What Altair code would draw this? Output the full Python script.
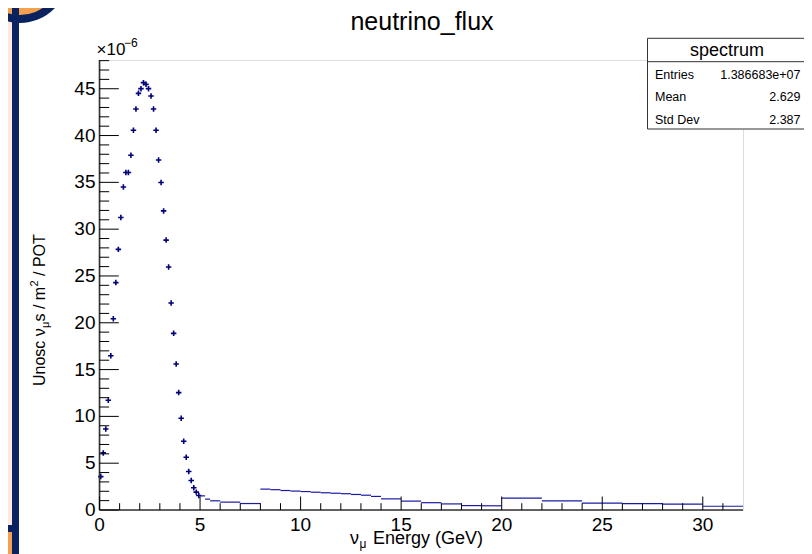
import altair as alt
import pandas as pd

# ---------------- data (values in units of 1e-6) ----------------
low_centers = [0.0625, 0.1875, 0.3125, 0.4375, 0.5625, 0.6875, 0.8125, 0.9375,
               1.0625, 1.1875, 1.3125, 1.4375, 1.5625, 1.6875, 1.8125, 1.9375,
               2.0625, 2.1875, 2.3125, 2.4375, 2.5625, 2.6875, 2.8125, 2.9375,
               3.0625, 3.1875, 3.3125, 3.4375, 3.5625, 3.6875, 3.8125, 3.9375,
               4.0625, 4.1875, 4.3125, 4.4375, 4.5625, 4.6875, 4.8125, 4.9375]
low_values = [3.57, 6.1, 8.66, 11.73, 16.48, 20.43, 24.29, 27.84,
              31.25, 34.51, 36.05, 36.05, 37.9, 40.56, 42.84, 44.51,
              45.01, 45.65, 45.47, 45.01, 44.22, 42.84, 40.56, 37.39,
              34.98, 31.95, 28.83, 25.95, 22.11, 18.87, 15.6, 12.54,
              9.8, 7.35, 5.64, 4.11, 3.15, 2.37, 1.91, 1.55]

tail_lo = [5.0, 5.25, 5.5, 6.0, 7.0, 8.0, 8.5, 9.0, 9.5, 10.0, 10.5, 11.0, 11.5,
           12.0, 12.5, 13.0, 13.5, 14.0, 15.0, 16.0, 17.0, 18.0, 19.0, 20.0,
           22.0, 24.0, 26.0, 28.0, 30.0]
tail_hi = [5.25, 5.5, 6.0, 7.0, 8.0, 8.5, 9.0, 9.5, 10.0, 10.5, 11.0, 11.5, 12.0,
           12.5, 13.0, 13.5, 14.0, 15.0, 16.0, 17.0, 18.0, 19.0, 20.0, 22.0,
           24.0, 26.0, 28.0, 30.0, 32.0]
tail_values = [1.51, 1.16, 0.98, 0.84, 0.69, 2.23, 2.17, 2.08, 2.02, 1.97, 1.90,
               1.84, 1.79, 1.74, 1.66, 1.58, 1.45, 1.19, 0.95, 0.78, 0.65, 0.47,
               0.45, 1.27, 0.98, 0.74, 0.68, 0.62, 0.40]

x_major = [0, 5, 10, 15, 20, 25, 30]
x_labels = ["0", "5", "10", "15", "20", "25", "30"]
x_minor = [1, 2, 3, 4, 6, 7, 8, 9, 11, 12, 13, 14, 16, 17, 18, 19, 21, 22, 23, 24,
           26, 27, 28, 29, 31]
y_major = [0, 5, 10, 15, 20, 25, 30, 35, 40, 45]
y_labels = ["0", "5", "10", "15", "20", "25", "30", "35", "40", "45"]
y_minor = [1, 2, 3, 4, 6, 7, 8, 9, 11, 12, 13, 14, 16, 17, 18, 19, 21, 22, 23, 24,
           26, 27, 28, 29, 31, 32, 33, 34, 36, 37, 38, 39, 41, 42, 43, 44, 46, 47, 48]

stats_labels = ["Entries", "Mean", "Std Dev"]
stats_values = ["1.386683e+07", "2.629", "2.387"]

X_DOMAIN = [0, 32]
Y_DOMAIN = [0, 48.07]

# ---------------- styling ----------------
FONT = "Liberation Sans"
NAVY = "#00007a"
LINE_BLUE = "#1a1aa6"
FRAME_NAVY = "#0b2260"
ORANGE = "#f4a04f"
PEACH = "#fde9dc"
AXIS_COL = "#333333"
W, H = 643.5, 450

xs = alt.Scale(domain=X_DOMAIN, nice=False, zero=False)
ys = alt.Scale(domain=Y_DOMAIN, nice=False, zero=False)

low_df = pd.DataFrame({"e": low_centers, "v": low_values})
tail_df = pd.DataFrame({"lo": tail_lo, "hi": tail_hi, "v": tail_values})
dummy = pd.DataFrame({"a": [0]})


def rect(x, x2, y, y2, color, stroke=None):
    kw = {"color": color}
    if stroke is not None:
        kw = {"fill": color, "stroke": stroke, "strokeWidth": 1}
    return alt.Chart(dummy).mark_rect(**kw).encode(
        x=alt.value(x), x2=alt.value(x2), y=alt.value(y), y2=alt.value(y2))


def txt(s, x, y, size, align="left", baseline="alphabetic", angle=0, color="black"):
    kw = dict(text=s, font=FONT, fontSize=size, align=align, baseline=baseline, color=color)
    if angle:
        kw["angle"] = angle
    return alt.Chart(dummy).mark_text(**kw).encode(x=alt.value(x), y=alt.value(y))


# decorations of the slide frame (plot coordinates; origin at page (99.5, 60))
deco = [
    rect(-92, -87.5, -52, 465, PEACH),
    rect(-92, -87.5, 472, 494, ORANGE),
    alt.Chart(dummy).mark_point(shape="circle", filled=True, size=96 * 96, color=FRAME_NAVY,
                                opacity=1).encode(x=alt.value(-79.5), y=alt.value(-85)),
    alt.Chart(dummy).mark_point(shape="circle", filled=True, size=80 * 80, color=ORANGE,
                                opacity=1).encode(x=alt.value(-79.5), y=alt.value(-85)),
    rect(-87.5, -80.5, -52, 494, FRAME_NAVY),
    rect(-92, -80.5, 465, 472, FRAME_NAVY),
]

points = alt.Chart(low_df).mark_point(
    shape="M-1,0L1,0M0,-1L0,1", filled=False, size=30, strokeWidth=1.6, color=NAVY, opacity=1
).encode(x=alt.X("e:Q", scale=xs, axis=None), y=alt.Y("v:Q", scale=ys, axis=None))

tail = alt.Chart(tail_df).mark_rule(color=LINE_BLUE, strokeWidth=1.2).encode(
    x=alt.X("lo:Q", scale=xs, axis=None), x2="hi:Q", y=alt.Y("v:Q", scale=ys, axis=None))

# axis lines
axes_lines = [
    alt.Chart(dummy).mark_rule(color=AXIS_COL, strokeWidth=1.6).encode(
        x=alt.value(0), y=alt.value(0), y2=alt.value(H)),
    alt.Chart(dummy).mark_rule(color=AXIS_COL, strokeWidth=1.6).encode(
        x=alt.value(0), x2=alt.value(W), y=alt.value(H)),
]

# inward ticks
ymaj = alt.Chart(pd.DataFrame({"t": y_major})).mark_rule(color="black", strokeWidth=1).encode(
    y=alt.Y("t:Q", scale=ys, axis=None), x=alt.value(0), x2=alt.value(19.3))
ymin = alt.Chart(pd.DataFrame({"t": y_minor})).mark_rule(color="black", strokeWidth=1).encode(
    y=alt.Y("t:Q", scale=ys, axis=None), x=alt.value(0), x2=alt.value(9.7))
xmaj = alt.Chart(pd.DataFrame({"t": x_major})).mark_rule(color="black", strokeWidth=1).encode(
    x=alt.X("t:Q", scale=xs, axis=None), y=alt.value(H), y2=alt.value(H - 13.5))
xmin = alt.Chart(pd.DataFrame({"t": x_minor})).mark_rule(color="black", strokeWidth=1).encode(
    x=alt.X("t:Q", scale=xs, axis=None), y=alt.value(H), y2=alt.value(H - 6.8))

# tick labels
xlab = alt.Chart(pd.DataFrame({"t": x_major, "s": x_labels})).mark_text(
    font=FONT, fontSize=19, align="center", baseline="top", color="black").encode(
    x=alt.X("t:Q", scale=xs, axis=None), y=alt.value(H + 5.5), text="s:N")
ylab = alt.Chart(pd.DataFrame({"t": y_major, "s": y_labels})).mark_text(
    font=FONT, fontSize=19, align="right", baseline="middle", color="black").encode(
    y=alt.Y("t:Q", scale=ys, axis=None), x=alt.value(-4), text="s:N")

texts = [
    txt("neutrino_flux", 322.5, -30, 25, align="center"),
    txt("\u00d710", -3, -5, 17),
    txt("\u22126", 24.5, -13, 12),
    # x title
    txt("\u03bd", 250.5, 484, 18),
    txt("\u03bc", 260, 487.5, 12),
    txt("Energy (GeV)", 273.5, 484, 18),
    # y title (rotated)
    txt("Unosc \u03bd", -54.5, 326, 16, angle=270),
    txt("\u03bc", -51, 268, 11, angle=270),
    txt("s / m", -54.5, 261.5, 16, angle=270),
    txt("2", -61.5, 226.5, 11, angle=270),
    txt("/ POT", -54.5, 216, 16, angle=270),
]

# stats box
stats = [
    rect(548, 707, -21.7, 69, "white", stroke="#333"),
    alt.Chart(dummy).mark_rule(color="#333", strokeWidth=1).encode(
        x=alt.value(548), x2=alt.value(707), y=alt.value(1.7)),
    txt("spectrum", 627.5, -4, 18, align="center"),
]
for i, (lab, val) in enumerate(zip(stats_labels, stats_values)):
    y = 18.5 + i * 22.5
    stats.append(txt(lab, 555.5, y, 12.5))
    stats.append(txt(val, 701, y, 12.5, align="right"))

chart = alt.layer(
    *deco, points, tail, *axes_lines, ymaj, ymin, xmaj, xmin, xlab, ylab, *texts, *stats
).properties(
    width=W, height=H,
    padding={"left": 91.5, "top": 52, "right": 61, "bottom": 44},
    autosize=alt.AutoSizeParams(type="none"),
).configure_view(stroke="#666", strokeWidth=1).configure(background="white")

chart.save("out.html", embed_options={"renderer": "svg", "actions": False})
